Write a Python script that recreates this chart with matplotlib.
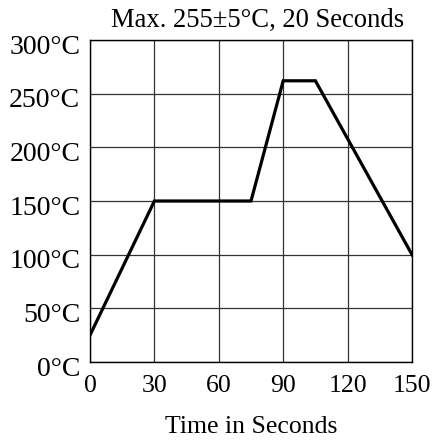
import matplotlib.pyplot as plt
import matplotlib.transforms as mtransforms

plt.rcParams['font.family'] = ['Liberation Serif', 'DejaVu Serif']

time_s = [0, 30, 75, 90, 105, 150]
temp_c = [25, 150, 150, 262, 262, 100]
x_ticks = [0, 30, 60, 90, 120, 150]
y_ticks = [0, 50, 100, 150, 200, 250, 300]
y_labels = [f"{v}\u00b0C" for v in y_ticks]

fig = plt.figure(figsize=(4.39, 4.41), dpi=100)
ax = fig.add_axes([90 / 439, 1 - 362 / 441, 322 / 439, 322 / 441])

ax.plot(time_s, temp_c, color="black", linewidth=2.3, solid_joinstyle="miter", zorder=3)

ax.set_xlim(0, 150)
ax.set_ylim(0, 300)
ax.set_xticks(x_ticks)
ax.set_yticks(y_ticks)
ax.set_yticklabels(y_labels)
ax.tick_params(length=0)
ax.tick_params(axis="x", labelsize=18.5, pad=9)
ax.tick_params(axis="y", labelsize=20, pad=7)
# labels in the source sit a little below their grid lines
shift = mtransforms.ScaledTranslation(0, -3 / 72, fig.dpi_scale_trans)
for lbl in ax.get_yticklabels():
    lbl.set_transform(lbl.get_transform() + shift)

ax.grid(True, color="#333333", linewidth=0.9)
for sp in ax.spines.values():
    sp.set_linewidth(1.0)

ax.set_xlabel("Time in Seconds", fontsize=18.5, labelpad=14)
ax.set_title("Max. 255\u00b15\u00b0C, 20 Seconds", fontsize=19.2, pad=9.5, x=0.52)

fig.savefig("out.png", dpi=100)
